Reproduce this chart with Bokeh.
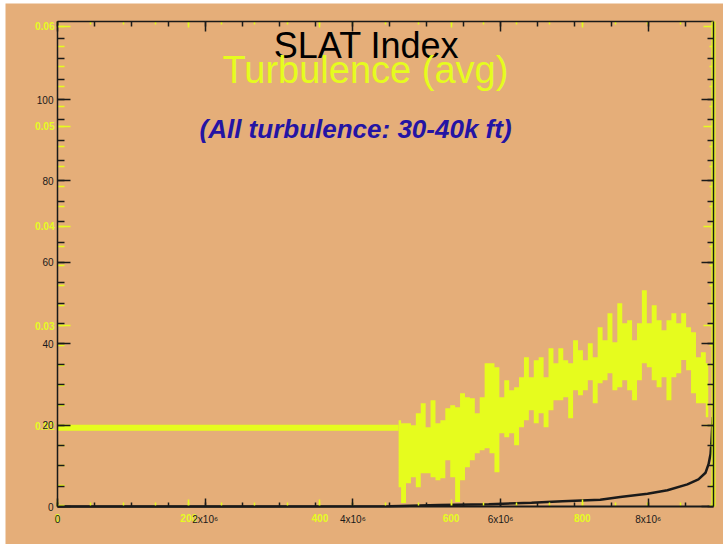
from bokeh.plotting import figure
from bokeh.models import Range1d, LinearAxis, FixedTicker, Label
from bokeh.embed import file_html
from bokeh.resources import INLINE
import numpy as np

# ---------------- data ----------------
# SLAT index (black, primary axes)
slat_x = [0, 4.50e6, 4.65e6, 5.17e6, 5.84e6, 6.42e6, 6.84e6, 7.35e6, 7.62e6, 7.99e6,
          8.26e6, 8.53e6, 8.68e6, 8.776e6, 8.817e6, 8.844e6, 8.857e6, 8.866e6, 8.874e6]
slat_y = [0, 0.05, 0.15, 0.35, 0.55, 0.93, 1.28, 1.67, 2.33, 3.14,
          3.98, 5.45, 6.68, 8.3, 10.4, 12.9, 16.1, 19.3, 22.0]

# Turbulence (avg) (yellow, secondary axes): flat part, then noisy part (upper / lower envelope)
turb_flat_level = 0.0198
turb_flat_x = [0, 520]
turb_noise_start = 520
turb_noise_end = 992
turb_upper = [
    0.02055, 0.02025, 0.02025, 0.02005, 0.02125, 0.02225, 0.01985, 0.02255,
    0.02025, 0.02055, 0.02175, 0.02205, 0.02185, 0.02325, 0.02285, 0.02275,
    0.02125, 0.02285, 0.02625, 0.02625, 0.02585, 0.02285, 0.02455, 0.02355,
    0.02385, 0.02485, 0.02686, 0.02485, 0.02656, 0.02686, 0.02485, 0.02776,
    0.02626, 0.02776, 0.02656, 0.02626, 0.02857, 0.02756, 0.02656, 0.02827,
    0.02686, 0.02987, 0.02857, 0.03127, 0.02837, 0.03227, 0.03027, 0.03057,
    0.02857, 0.03027, 0.03358, 0.03027, 0.03207, 0.03057, 0.02957, 0.03057,
    0.03127, 0.03027, 0.03127, 0.02987, 0.02937, 0.02686, 0.02736, 0.02626,
]
turb_lower = [
    0.01384, 0.01224, 0.01424, 0.01484, 0.01384, 0.01524, 0.01524, 0.01484,
    0.01454, 0.01474, 0.01654, 0.01484, 0.01234, 0.01454, 0.01584, 0.01654,
    0.01724, 0.01754, 0.01774, 0.01724, 0.01534, 0.01925, 0.01885, 0.01925,
    0.01804, 0.01985, 0.02055, 0.02155, 0.02025, 0.02125, 0.01985, 0.02155,
    0.02255, 0.02255, 0.02286, 0.02075, 0.02356, 0.02306, 0.02356, 0.02456,
    0.02225, 0.02426, 0.02456, 0.02526, 0.02356, 0.02386, 0.02456, 0.02356,
    0.02255, 0.02456, 0.02626, 0.02586, 0.02456, 0.02386, 0.02486, 0.02255,
    0.02486, 0.02526, 0.02657, 0.02556, 0.02326, 0.02225, 0.02225, 0.02085,
]

# axis extents (the boxed plot area)
bx_end = 8.884e6
by_end = 119.2
yx_end = 1000
yy_start, yy_end = 0.0119, 0.0605

# ticks
bx_ticks = [0, 2e6, 4e6, 6e6, 8e6]
bx_labels = ["0", "2x10\u2076", "4x10\u2076", "6x10\u2076", "8x10\u2076"]
bx_minor = [i * 0.5e6 for i in range(18)]
by_ticks = [0, 20, 40, 60, 80, 100]
by_labels = ["0", "20", "40", "60", "80", "100"]
by_minor = [i * 5 for i in range(24)]
yx_ticks = [0, 200, 400, 600, 800]
yx_labels = ["0", "200", "400", "600", "800"]
yx_minor = [i * 50 for i in range(21)]
yy_ticks = [0.02, 0.03, 0.04, 0.05, 0.06]
yy_labels = ["0.02", "0.03", "0.04", "0.05", "0.06"]
yy_minor = [round(0.012 + i * 0.002, 3) for i in range(25)]

title1 = "SLAT Index"
title2 = "Turbulence (avg)"
subtitle = "(All turbulence: 30-40k ft)"

# ---------------- styles / layout ----------------
TAN = "#E5AE79"
YEL = "#E6FC1E"
BLK = "#1a1a1a"
BLUE = "#2414A4"
FONT = "Liberation Sans"

W, H = 718, 541
BOX_L, BOX_R, BOX_T, BOX_B = 52, 708, 18, 503   # boxed area inside the canvas (px)
sx_b = (BOX_R - BOX_L) / bx_end
sy_b = (BOX_B - BOX_T) / by_end
sx_y = (BOX_R - BOX_L) / yx_end
sy_y = (BOX_B - BOX_T) / (yy_end - yy_start)

p = figure(width=W, height=H, output_backend="svg", toolbar_location=None,
           x_range=Range1d(-BOX_L / sx_b, (W - BOX_L) / sx_b),
           y_range=Range1d(-(H - BOX_B) / sy_b, BOX_B / sy_b),
           x_axis_type=None, y_axis_type=None,
           min_border_left=0, min_border_right=0, min_border_top=0, min_border_bottom=0,
           background_fill_color=TAN, border_fill_color=TAN, outline_line_color=None)
p.margin = (3, 0, 0, 5)
p.extra_x_ranges = {"yx": Range1d(-BOX_L / sx_y, (W - BOX_L) / sx_y)}
p.extra_y_ranges = {"yy": Range1d(yy_start - (H - BOX_B) / sy_y, yy_start + BOX_B / sy_y)}

# yellow series
p.line(turb_flat_x, [turb_flat_level] * len(turb_flat_x), line_color=YEL, line_width=6,
       x_range_name="yx", y_range_name="yy")
nx = np.linspace(turb_noise_start, turb_noise_end, len(turb_upper))
p.varea_step(x=nx, y1=turb_lower, y2=turb_upper, step_mode="center", fill_color=YEL,
             x_range_name="yx", y_range_name="yy")

# black series
p.line(slat_x, slat_y, line_color=BLK, line_width=2.5)


def make_axis(side, ticks, minor, bounds, color, tin, min_in, labels=None,
              line_width=1.5, show_line=True, bold=False, standoff=4, **kw):
    ax = LinearAxis(ticker=FixedTicker(ticks=ticks if labels else [], minor_ticks=minor),
                    bounds=bounds, **kw)
    ax.axis_line_color = color if show_line else None
    ax.axis_line_width = line_width
    ax.major_tick_line_color = color
    ax.major_tick_line_width = 1.5
    ax.major_tick_in = tin
    ax.major_tick_out = 0
    ax.minor_tick_line_color = color
    ax.minor_tick_line_width = 1.5
    ax.minor_tick_in = min_in
    ax.minor_tick_out = 0
    if labels:
        ax.major_label_overrides = dict(zip(ticks, labels))
        ax.major_label_text_color = color
        ax.major_label_text_font = FONT
        ax.major_label_text_font_size = "10px"
        ax.major_label_text_font_style = "bold" if bold else "normal"
        ax.major_label_standoff = standoff
    p.add_layout(ax, side)
    return ax


yyb = (yy_start, yy_end)
# yellow axes
make_axis("left", yy_ticks, yy_minor, yyb, YEL, 13, 7, labels=yy_labels, bold=True,
          standoff=3, show_line=False, y_range_name="yy", fixed_location=0)
make_axis("right", [], yy_ticks, yyb, YEL, 0, 10, show_line=False,
          y_range_name="yy", x_range_name="yx", fixed_location=yx_end)
make_axis("right", [], yy_minor, yyb, YEL, 0, 4, line_width=4,
          y_range_name="yy", x_range_name="yx", fixed_location=yx_end)
make_axis("below", yx_ticks, yx_minor, (0, yx_end), YEL, 7, 4, labels=yx_labels, bold=True,
          standoff=7, show_line=False, x_range_name="yx", fixed_location=0)
make_axis("above", [], yx_ticks, (0, yx_end), YEL, 0, 6, show_line=False,
          x_range_name="yx", fixed_location=by_end)
make_axis("above", [], yx_minor, (0, yx_end), YEL, 0, 3, show_line=False,
          x_range_name="yx", fixed_location=by_end)

# black axes
make_axis("left", by_ticks, by_minor, (0, by_end), BLK, 13, 7, labels=by_labels,
          standoff=4, fixed_location=0)
make_axis("below", bx_ticks, bx_minor, (0, bx_end), BLK, 8, 4, labels=bx_labels,
          standoff=7, line_width=2, fixed_location=0)
make_axis("above", [], bx_ticks, (0, bx_end), BLK, 0, 10, fixed_location=by_end)
make_axis("above", [], bx_minor, (0, bx_end), BLK, 0, 5, show_line=False, fixed_location=by_end)
make_axis("right", [], by_ticks, (0, by_end), BLK, 0, 12, fixed_location=bx_end)
make_axis("right", [], by_minor, (0, by_end), BLK, 0, 6, show_line=False, fixed_location=bx_end)

# titles
p.add_layout(Label(x=4.185e6, y=113.4, text=title1, text_align="center",
                   text_baseline="alphabetic", text_color="#000000",
                   text_font=FONT, text_font_size="36px"))
p.add_layout(Label(x=4.17e6, y=107.3, text=title2, text_align="center",
                   text_baseline="alphabetic", text_color=YEL,
                   text_font=FONT, text_font_size="38px"))
p.add_layout(Label(x=4.036e6, y=92.7, text=subtitle, text_align="center",
                   text_baseline="alphabetic", text_color=BLUE,
                   text_font=FONT, text_font_size="26px", text_font_style="bold italic"))

open("out.html", "w").write(file_html(p, INLINE))
